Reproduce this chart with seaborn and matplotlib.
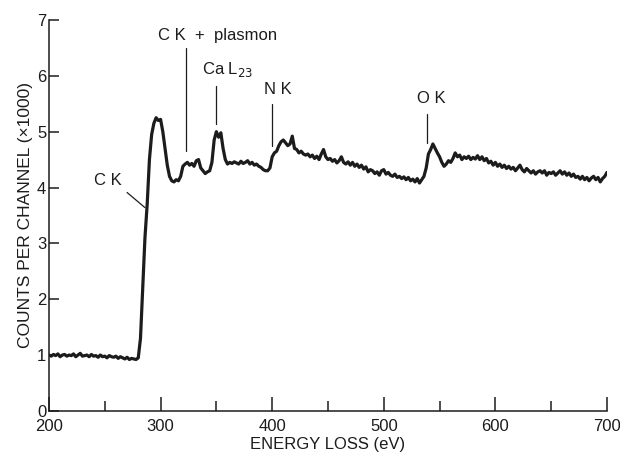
import numpy as np
import pandas as pd
import matplotlib
matplotlib.use("Agg")
import matplotlib.pyplot as plt
import seaborn as sns
from matplotlib.ticker import MultipleLocator

# EELS spectrum, 2 eV per point from 200 to 700 eV
energy_start, energy_step = 200, 2
counts = [
    1.00, 0.98, 1.01, 0.99, 1.02, 0.97, 1.00, 1.01, 0.98, 1.00,  # 200-218
    0.99, 1.02, 0.97, 1.00, 1.03, 0.98, 0.99, 1.00, 0.97, 1.01,  # 220-238
    0.98, 0.99, 0.96, 1.00, 0.97, 0.98, 0.95, 0.99, 0.97, 0.96,  # 240-258
    0.98, 0.94, 0.97, 0.95, 0.93, 0.96, 0.92, 0.94, 0.93, 0.92,  # 260-278
    0.95, 1.30, 2.20, 3.10, 3.70, 4.50, 4.95, 5.15, 5.25, 5.20,  # 280-298
    5.22, 5.00, 4.70, 4.40, 4.20, 4.12, 4.10, 4.14, 4.12, 4.20,  # 300-318
    4.38, 4.42, 4.45, 4.40, 4.43, 4.38, 4.48, 4.50, 4.35, 4.30,  # 320-338
    4.25, 4.28, 4.30, 4.45, 4.85, 5.00, 4.90, 4.98, 4.70, 4.50,  # 340-358
    4.42, 4.45, 4.43, 4.46, 4.44, 4.42, 4.47, 4.43, 4.45, 4.48,  # 360-378
    4.42, 4.45, 4.40, 4.42, 4.38, 4.36, 4.32, 4.30, 4.30, 4.35,  # 380-398
    4.55, 4.62, 4.65, 4.75, 4.82, 4.85, 4.80, 4.75, 4.78, 4.92,  # 400-418
    4.70, 4.68, 4.62, 4.65, 4.60, 4.58, 4.60, 4.55, 4.58, 4.52,  # 420-438
    4.56, 4.50, 4.60, 4.68, 4.55, 4.50, 4.52, 4.47, 4.50, 4.44,  # 440-458
    4.48, 4.55, 4.45, 4.42, 4.46, 4.40, 4.45, 4.38, 4.42, 4.36,  # 460-478
    4.40, 4.33, 4.37, 4.28, 4.32, 4.30, 4.25, 4.28, 4.22, 4.30,  # 480-498
    4.32, 4.24, 4.27, 4.22, 4.20, 4.24, 4.18, 4.20, 4.16, 4.19,  # 500-518
    4.14, 4.18, 4.12, 4.15, 4.10, 4.16, 4.08, 4.14, 4.20, 4.35,  # 520-538
    4.60, 4.68, 4.78, 4.70, 4.62, 4.55, 4.45, 4.38, 4.42, 4.48,  # 540-558
    4.45, 4.52, 4.62, 4.55, 4.58, 4.50, 4.55, 4.52, 4.56, 4.50,  # 560-578
    4.54, 4.51, 4.57, 4.50, 4.55, 4.48, 4.52, 4.44, 4.47, 4.40,  # 580-598
    4.45, 4.38, 4.42, 4.36, 4.40, 4.34, 4.38, 4.33, 4.36, 4.30,  # 600-618
    4.35, 4.40, 4.32, 4.28, 4.34, 4.30, 4.26, 4.30, 4.24, 4.28,  # 620-638
    4.30, 4.26, 4.30, 4.22, 4.27, 4.25, 4.28, 4.22, 4.26, 4.30,  # 640-658
    4.24, 4.28, 4.22, 4.26, 4.20, 4.24, 4.18, 4.20, 4.15, 4.20,  # 660-678
    4.14, 4.18, 4.12, 4.17, 4.20, 4.14, 4.18, 4.10, 4.16, 4.20,  # 680-698
    4.27,                                                        # 700
]
energy = energy_start + energy_step * np.arange(len(counts))

# Edge labels: text, text position, and the short vertical marker under it
edge_labels = ["C K  +  plasmon", "Ca L$_{23}$", "N K", "O K"]
label_x = [351, 360, 405, 543]
label_y = [6.72, 6.12, 5.75, 5.6]
marker_x = [323, 350, 400, 539]
marker_top = [6.5, 5.82, 5.5, 5.32]
marker_bottom = [4.66, 5.14, 4.75, 4.8]

sns.set_theme(style="ticks")
plt.rcParams["font.family"] = ["Liberation Sans", "DejaVu Sans"]
ink = "#1c1c1c"

df = pd.DataFrame({"energy": energy, "counts": counts})

fig = plt.figure(figsize=(6.2, 4.54), dpi=100)
ax = fig.add_axes([0.079, 0.095, 0.9, 0.861])

sns.lineplot(data=df, x="energy", y="counts", ax=ax, color=ink, lw=2.3)

ax.set_xlim(200, 700)
ax.set_ylim(0, 7)
ax.xaxis.set_major_locator(MultipleLocator(100))
ax.xaxis.set_minor_locator(MultipleLocator(50))
ax.yaxis.set_major_locator(MultipleLocator(1))
ax.tick_params(axis="x", which="major", direction="in", length=10, width=1.1,
               color=ink, labelsize=12, labelcolor=ink, pad=6)
ax.tick_params(axis="x", which="minor", direction="in", length=7, width=1.1, color=ink)
ax.tick_params(axis="y", which="major", direction="in", length=7, width=1.1,
               color=ink, labelsize=12, labelcolor=ink, pad=2)

sns.despine(ax=ax)
for side in ["left", "bottom"]:
    ax.spines[side].set_color(ink)
    ax.spines[side].set_linewidth(1.1)

ax.set_xlabel("ENERGY LOSS (eV)", fontsize=12, color=ink, labelpad=2)
ax.set_ylabel("COUNTS PER CHANNEL (\u00d71000)", fontsize=12.5, color=ink, labelpad=3)

# C K edge label with slanted pointer
ax.text(253, 4.12, "C K", fontsize=12, color=ink, ha="center", va="center")
ax.plot([270, 286], [3.91, 3.64], color=ink, lw=0.9)

for txt, tx, ty, mx, mt, mb in zip(edge_labels, label_x, label_y,
                                   marker_x, marker_top, marker_bottom):
    ax.text(tx, ty, txt, fontsize=12, color=ink, ha="center", va="center")
    ax.plot([mx, mx], [mt, mb], color=ink, lw=0.9)

plt.savefig("out.png", dpi=100)
plt.close()
